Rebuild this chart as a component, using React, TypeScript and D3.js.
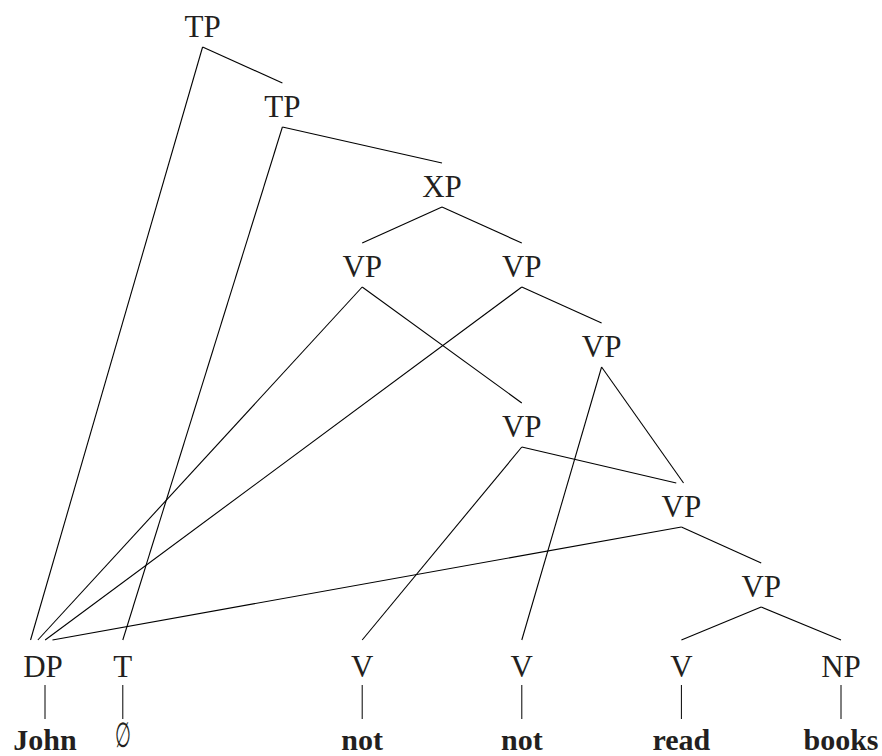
import { useEffect, useRef } from "react";
import * as d3 from "d3";

// phrase nodes: label, grid column, grid row
const nodeIds = ["TP1", "TP2", "XP", "VP1", "VP2", "VP3", "VP4", "VP5", "VP6", "DP", "T", "V1", "V2", "V3", "NP"];
const nodeLabels = ["TP", "TP", "XP", "VP", "VP", "VP", "VP", "VP", "VP", "DP", "T", "V", "V", "V", "NP"];
const nodeCols = [2, 3, 5, 4, 6, 7, 6, 8, 9, 0, 1, 4, 6, 8, 10];
const nodeRows = [0, 1, 2, 3, 3, 4, 5, 6, 7, 8, 8, 8, 8, 8, 8];

// parent -> child
const edges: [string, string][] = [
  ["TP1", "TP2"], ["TP1", "DP"],
  ["TP2", "XP"], ["TP2", "T"],
  ["XP", "VP1"], ["XP", "VP2"],
  ["VP1", "DP"], ["VP1", "VP4"],
  ["VP2", "DP"], ["VP2", "VP3"],
  ["VP3", "V2"], ["VP3", "VP5"],
  ["VP4", "V1"], ["VP4", "VP5"],
  ["VP5", "DP"], ["VP5", "VP6"],
  ["VP6", "V3"], ["VP6", "NP"],
];

// leaves under the preterminals
const leafParents = ["DP", "T", "V1", "V2", "V3", "NP"];
const leafWords = ["John", "\u2205", "not", "not", "read", "books"];

const serif = "'Liberation Serif', 'Times New Roman', serif";

export default function App() {
  const ref = useRef<SVGSVGElement>(null);

  useEffect(() => {
    const svg = d3.select(ref.current);
    svg.selectAll("*").remove();

    const x = d3.scaleLinear().domain([0, 10]).range([43, 841]);
    const y = d3.scaleLinear().domain([0, 8]).range([15, 655]);

    const nodes = nodeIds.map((id, i) => ({
      id, label: nodeLabels[i], x: x(nodeCols[i]), top: y(nodeRows[i]), row: nodeRows[i],
    }));
    const byId = new Map(nodes.map((n) => [n.id, n]));

    // spread several incoming lines on one child by their slope
    const incoming = d3.group(edges, (e) => e[1]);
    const offsets = new Map<string, number>();
    incoming.forEach((list, child) => {
      const c = byId.get(child)!;
      const sorted = [...list].sort((a, b) => {
        const pa = byId.get(a[0])!, pb = byId.get(b[0])!;
        return (pa.x - c.x) / (c.top - pa.top) - (pb.x - c.x) / (c.top - pb.top);
      });
      sorted.forEach((e, k) =>
        offsets.set(e.join(">"), sorted.length > 1 ? (k - (sorted.length - 1) / 2) * 7.3 - 1.5 : 0));
    });

    const g = svg.append("g");

    g.selectAll("line.edge")
      .data(edges)
      .join("line")
      .attr("class", "edge")
      .attr("x1", (e) => byId.get(e[0])!.x)
      .attr("y1", (e) => byId.get(e[0])!.top + 32)
      .attr("x2", (e) => byId.get(e[1])!.x + (offsets.get(e.join(">")) ?? 0))
      .attr("y2", (e) => byId.get(e[1])!.top - (byId.get(e[1])!.row === 8 ? 15 : 12))
      .attr("stroke", "#000")
      .attr("stroke-width", 1.1);

    g.selectAll("text.node")
      .data(nodes)
      .join("text")
      .attr("class", "node")
      .attr("x", (n) => n.x)
      .attr("y", (n) => n.top + 22)
      .attr("text-anchor", "middle")
      .attr("font-family", serif)
      .attr("font-size", 31)
      .attr("fill", "#231f20")
      .text((n) => n.label);

    const leaves = leafParents.map((p, i) => ({ x: byId.get(p)!.x + (p === "DP" ? 2 : 0), word: leafWords[i] }));

    g.selectAll("line.leaf")
      .data(leaves)
      .join("line")
      .attr("class", "leaf")
      .attr("x1", (d) => d.x)
      .attr("x2", (d) => d.x)
      .attr("y1", 685)
      .attr("y2", 719)
      .attr("stroke", "#000")
      .attr("stroke-width", 1);

    const wordY = 750;
    g.selectAll("text.word")
      .data(leaves)
      .join("text")
      .attr("class", "word")
      .attr("text-anchor", "middle")
      .attr("font-family", serif)
      .attr("fill", "#231f20")
      .each(function (d) {
        const t = d3.select(this);
        if (d.word === "\u2205") {
          // tall narrow empty-set glyph
          t.attr("transform", `translate(${d.x},${wordY - 3}) scale(0.6,1.15)`)
            .attr("x", 0)
            .attr("y", 0)
            .attr("font-size", 30)
            .attr("font-weight", "normal");
        } else {
          t.attr("x", d.x).attr("y", wordY).attr("font-size", 30).attr("font-weight", "bold");
        }
      })
      .text((d) => d.word);
  }, []);

  return (
    <svg
      ref={ref}
      width={882}
      height={756}
      style={{ position: "absolute", left: 0, top: 0, background: "#fff" }}
    />
  );
}
